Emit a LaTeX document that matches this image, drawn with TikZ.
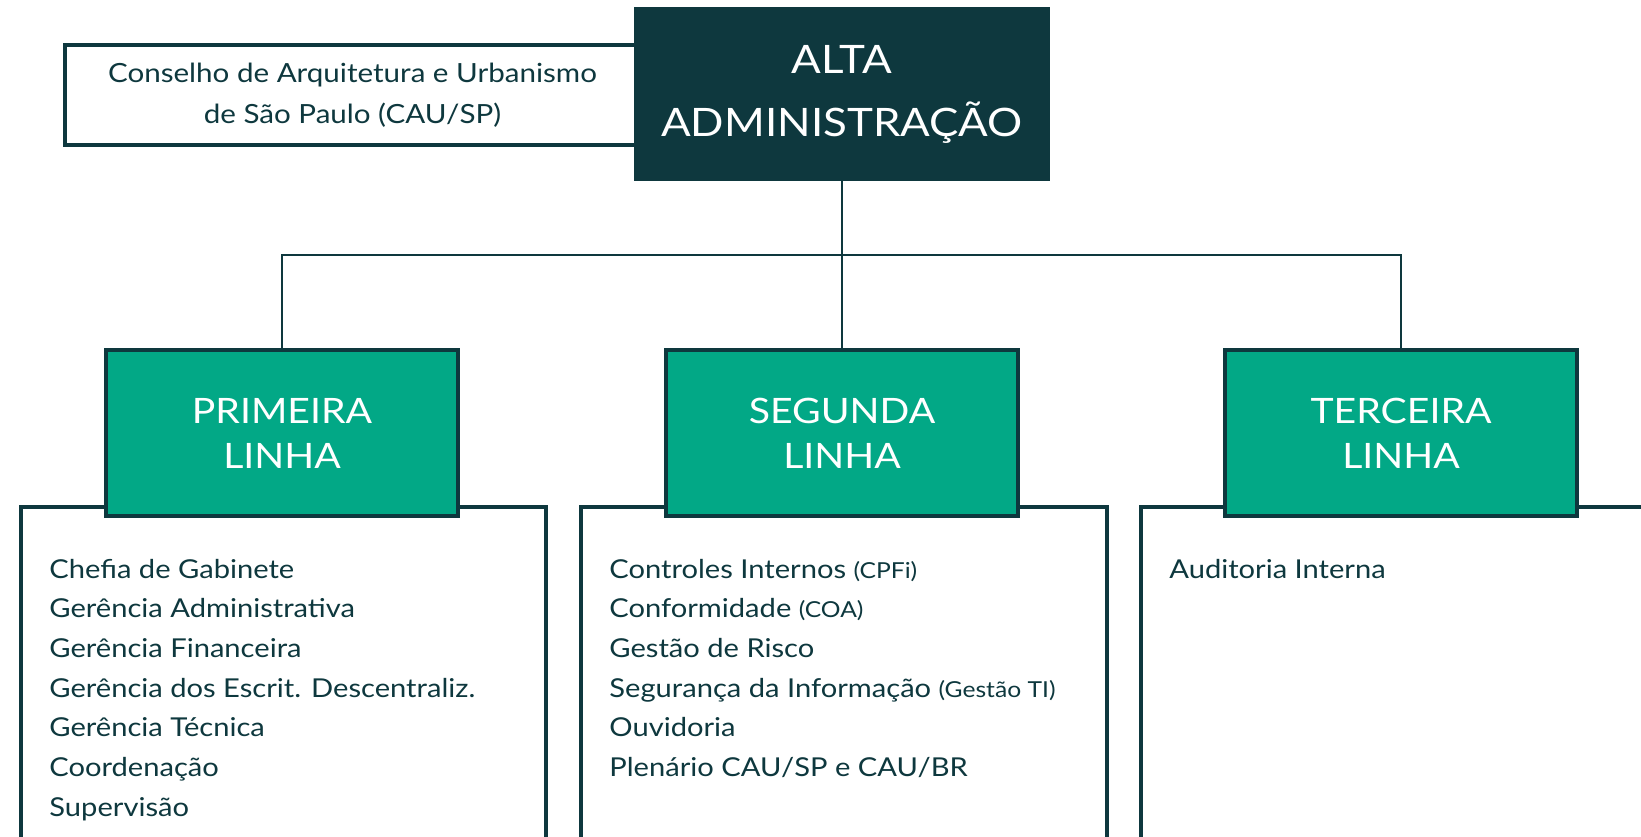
\documentclass[tikz,border=0pt]{standalone}
\usepackage{fontspec}
\setmainfont{Lato}[FakeStretch=1.12]
\definecolor{darkteal}{HTML}{0E383E}
\definecolor{linegreen}{HTML}{02A886}
\newcommand{\paren}[1]{{\fontsize{11}{12}\selectfont #1}}
\tikzset{
  topbox/.style={fill=darkteal, text=white, align=center, inner sep=0,
    minimum width=208pt, minimum height=87pt, font=\fontsize{19.6}{31.5}\selectfont},
  councilbox/.style={draw=darkteal, line width=2pt, fill=white, text=darkteal, align=center,
    minimum width=287.5pt, minimum height=50pt, font=\fontsize{13.2}{20.5}\selectfont},
  linebox/.style={draw=darkteal, line width=2pt, fill=linegreen, text=white, align=center,
    minimum width=176pt, minimum height=83pt, font=\fontsize{17.5}{22.5}\selectfont},
  listbox/.style={draw=darkteal, line width=1.8pt, fill=white, anchor=north west,
    minimum height=210pt},
  item/.style={anchor=base west, inner sep=0, text=darkteal, font=\fontsize{13}{16}\selectfont},
  link/.style={draw=darkteal, line width=1.2pt}
}
\begin{document}
\begin{tikzpicture}[x=0.5pt, y=-0.5pt]
	\useasboundingbox (0,0) rectangle (1641,836);
	\clip (0,0) rectangle (1641,836);
	% list frames under the green boxes
	\node[listbox, minimum width=262.5pt] (l1) at (19,505) {};
	\node[listbox, minimum width=263pt] (l2) at (579,505) {};
	\node[listbox, minimum width=281pt] (l3) at (1139,505) {};
	\node[councilbox] (cau) at (352.5,95) {Conselho de Arquitetura e Urbanismo\\de São Paulo (CAU/SP)};
	\node[topbox] (alta) at (842,94) {ALTA\\ADMINISTRAÇÃO};
	\node[linebox] (primeira) at (282,433) {PRIMEIRA\\LINHA};
	\node[linebox] (segunda) at (842,433) {SEGUNDA\\LINHA};
	\node[linebox] (terceira) at (1401,433) {TERCEIRA\\LINHA};
	\coordinate (bus) at (842,255);
	\draw[link] (alta.south) -- (segunda.north);
	\draw[link] (primeira.north) |- (bus) -| (terceira.north);
	% primeira linha
	\node[item] (p1) at (49,578) {Chefia de Gabinete};
	\node[item] (p2) at (49,617.7) {Gerência Administrativa};
	\node[item] (p3) at (49,657.4) {Gerência Financeira};
	\node[item] (p4) at (49,697.1) {Gerência dos Escrit. Descentraliz.};
	\node[item] (p5) at (49,736.8) {Gerência Técnica};
	\node[item] (p6) at (49,776.5) {Coordenação};
	\node[item] (p7) at (49,816.2) {Supervisão};
	% segunda linha
	\node[item] (s1) at (609,578) {Controles Internos \paren{(CPFi)}};
	\node[item] (s2) at (609,617.7) {Conformidade \paren{(COA)}};
	\node[item] (s3) at (609,657.4) {Gestão de Risco};
	\node[item] (s4) at (609,697.1) {Segurança da Informação \paren{(Gestão TI)}};
	\node[item] (s5) at (609,736.8) {Ouvidoria};
	\node[item] (s6) at (609,776.5) {Plenário CAU/SP e CAU/BR};
	% terceira linha
	\node[item] (t1) at (1169,578) {Auditoria Interna};
\end{tikzpicture}
\end{document}
